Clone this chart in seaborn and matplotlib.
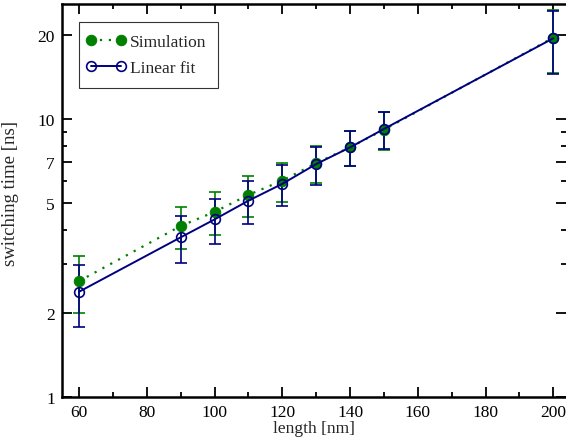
import matplotlib
matplotlib.use("Agg")
import matplotlib.pyplot as plt
import seaborn as sns
import pandas as pd
from matplotlib.ticker import FixedLocator, FixedFormatter, NullFormatter
from matplotlib.legend_handler import HandlerLine2D
from matplotlib.lines import Line2D

length = [60, 90, 100, 110, 120, 130, 140, 150, 200]
sim = [2.61, 4.12, 4.63, 5.33, 6.0, 6.93, 7.91, 9.15, 19.6]
fit = [2.39, 3.75, 4.35, 5.08, 5.84, 6.88, 7.90, 9.2, 19.5]
err = [0.6, 0.72, 0.81, 0.9, 0.97, 1.07, 1.13, 1.4, 5.0]

y_major = [1, 2, 5, 7, 10, 20]
y_minor = [3, 4, 6, 8, 9]
x_major = [60, 80, 100, 120, 140, 160, 180, 200]
x_minor = [70, 90, 110, 130, 150, 170, 190]

GREEN = "#008000"
NAVY = "#000080"

sns.set_style("ticks")
plt.rcParams["font.family"] = ["Liberation Serif", "DejaVu Serif"]
plt.rcParams["mathtext.fontset"] = "stix"

df = pd.DataFrame({"length": length, "sim": sim, "fit": fit, "err": err})

fig = plt.figure(figsize=(5.66, 4.39), dpi=100)
ax = fig.add_axes([61.7 / 566, 1 - 398 / 439, (565.5 - 61.7) / 566, (398 - 5) / 439])

ax.errorbar(df["length"], df["sim"], yerr=df["err"], fmt="none", ecolor=GREEN,
            elinewidth=1.2, capsize=4, capthick=1.2, zorder=2)
ax.errorbar(df["length"], df["fit"], yerr=df["err"], fmt="none", ecolor=NAVY,
            elinewidth=1.2, capsize=4, capthick=1.2, zorder=3)

sns.lineplot(data=df, x="length", y="sim", ax=ax, color=GREEN, linestyle=(0, (1, 3)),
             linewidth=1.6, marker="o", markersize=7.5, markerfacecolor=GREEN,
             markeredgecolor=GREEN, label="Simulation", zorder=4)
sns.lineplot(data=df, x="length", y="fit", ax=ax, color=NAVY, linestyle="-",
             linewidth=1.4, marker="o", markersize=7, markerfacecolor="none",
             markeredgecolor=NAVY, markeredgewidth=1.2, label="Linear fit", zorder=5)

ax.set_yscale("log")
ax.set_xlim(54.9, 203.6)
ax.set_ylim(1, 25.9)

ax.xaxis.set_major_locator(FixedLocator(x_major))
ax.xaxis.set_minor_locator(FixedLocator(x_minor))
ax.yaxis.set_major_locator(FixedLocator(y_major))
ax.yaxis.set_major_formatter(FixedFormatter([str(v) for v in y_major]))
ax.yaxis.set_minor_locator(FixedLocator(y_minor))
ax.yaxis.set_minor_formatter(NullFormatter())

ax.tick_params(which="both", direction="in", top=True, right=True, labelsize=12.5,
               colors="black", width=1.3, pad=5)
ax.tick_params(which="major", length=7)
ax.tick_params(which="minor", length=3.5)

for s in ["left", "bottom", "top"]:
    ax.spines[s].set_linewidth(1.8)
    ax.spines[s].set_color("black")
ax.spines["right"].set_visible(False)

ax.set_xlabel("length [nm]", fontsize=12.5, labelpad=0)
ax.set_ylabel("switching time [ns]", fontsize=13.5, labelpad=3)
ax.yaxis.set_label_coords(-0.085, 0.52)

handler = HandlerLine2D(marker_pad=0.0, numpoints=2)
leg = ax.legend(loc="upper left", bbox_to_anchor=(0.035, 0.955),
                handler_map={Line2D: handler},
                fontsize=12.5, frameon=True, fancybox=False, edgecolor="black",
                handlelength=1.7, handletextpad=0.5, borderpad=0.7, labelspacing=0.55,
                borderaxespad=0)
leg.get_frame().set_linewidth(0.8)

fig.savefig("out.png", dpi=100)
